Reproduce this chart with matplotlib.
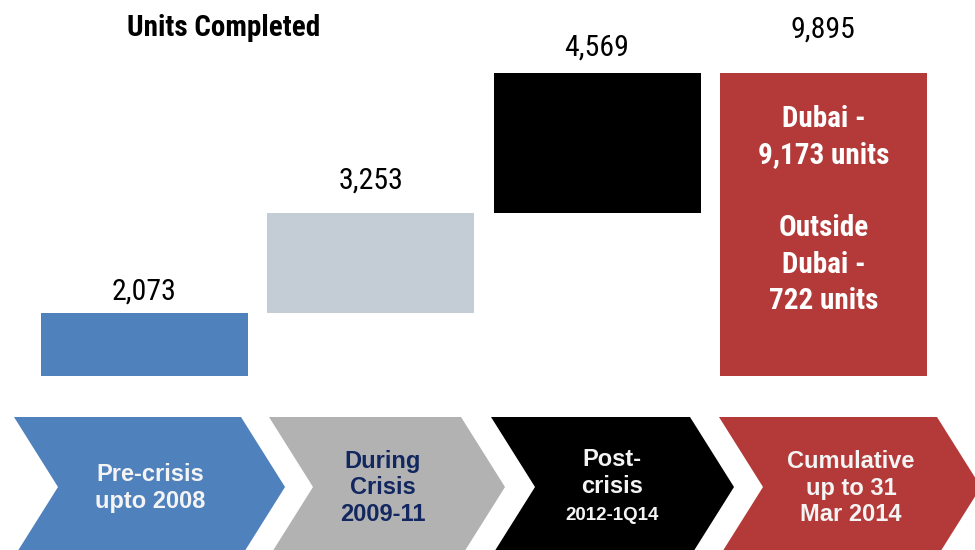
import matplotlib
matplotlib.use("Agg")
import matplotlib.pyplot as plt
from matplotlib.patches import Polygon

# ---- data ----
periods = ["Pre-crisis\nupto 2008", "During\nCrisis\n2009-11",
           "Post-\ncrisis\n2012-1Q14", "Cumulative\nup to 31\nMar 2014"]
units = [2073, 3253, 4569]
total = sum(units)                     # 9,895
dubai_units = 9173
outside_units = 722

bar_colors = ["#4F81BD", "#C4CCD6", "#000000", "#B33A38"]
chevron_colors = ["#4F81BD", "#B2B2B2", "#000000", "#B33A38"]
chevron_text = ["#F4F4F4", "#12275F", "#F4F4F4", "#F4F4F4"]

NARROW = ["Roboto Condensed", "DejaVu Sans"]
ARIAL = ["Liberation Sans", "DejaVu Sans"]

fig = plt.figure(figsize=(9.75, 5.5), dpi=100)

# ---- waterfall bars ----
ax = fig.add_axes([0, 0, 1, 1])
px = 303 / total            # pixels per unit
ax.set_ylim(-174 / px, (550 - 174) / px)
step = 226.3
ax.set_xlim(-144.5 / step, (975 - 144.5) / step)
ax.axis("off")

bottoms = [0, units[0], units[0] + units[1], 0]
heights = units + [total]
ax.bar(range(4), heights, bottom=bottoms, width=207 / step,
       color=bar_colors, linewidth=0)

label_pad = [21, 32, 25, 43]
for i, (b, h) in enumerate(zip(bottoms, heights)):
    ax.text(i, b + h + label_pad[i] / px, f"{h:,}", ha="center", va="center",
            fontsize=21.5, family=NARROW, color="black")

split_txt = (f"Dubai -\n{dubai_units:,} units\n\nOutside\nDubai -\n"
             f"{outside_units:,} units")
ax.text(3, (376 - 210) / px, split_txt, ha="center", va="center",
        fontsize=21, fontweight="bold", family=NARROW, color="white",
        linespacing=1.38)

ax.text((224 - 144.5) / step, (376 - 28) / px, "Units Completed",
        ha="center", va="center", fontsize=21, fontweight="bold",
        family=NARROW)

# ---- period chevrons along the bottom (pixel coordinates) ----
cx = fig.add_axes([0, 0, 1, 1], facecolor="none")
cx.set_xlim(0, 975)
cx.set_ylim(550, 0)
cx.axis("off")

lefts = [14, 269, 491, 719]
rights = [241, 461, 690, 937]
tip = 44
top, mid, bot = 417, 487, 557
text_x = [150, 383, 612, 851]
for i in range(4):
    l, r = lefts[i], rights[i]
    pts = [(l, top), (r, top), (r + tip, mid), (r, bot), (l, bot),
           (l + tip, mid)]
    cx.add_patch(Polygon(pts, closed=True, color=chevron_colors[i], lw=0))

for i, txt in enumerate(periods):
    if i == 2:
        cx.text(text_x[i], 473, "Post-\ncrisis", ha="center", va="center",
                fontsize=17, fontweight="bold", family=ARIAL,
                color=chevron_text[i], linespacing=1.2)
        cx.text(text_x[i], 516, "2012-1Q14", ha="center", va="center",
                fontsize=13.5, fontweight="bold", family=ARIAL,
                color=chevron_text[i])
    else:
        cx.text(text_x[i], 488, txt, ha="center", va="center",
                fontsize=17, fontweight="bold", family=ARIAL,
                color=chevron_text[i], linespacing=1.2)

fig.savefig("out.png", dpi=100)
